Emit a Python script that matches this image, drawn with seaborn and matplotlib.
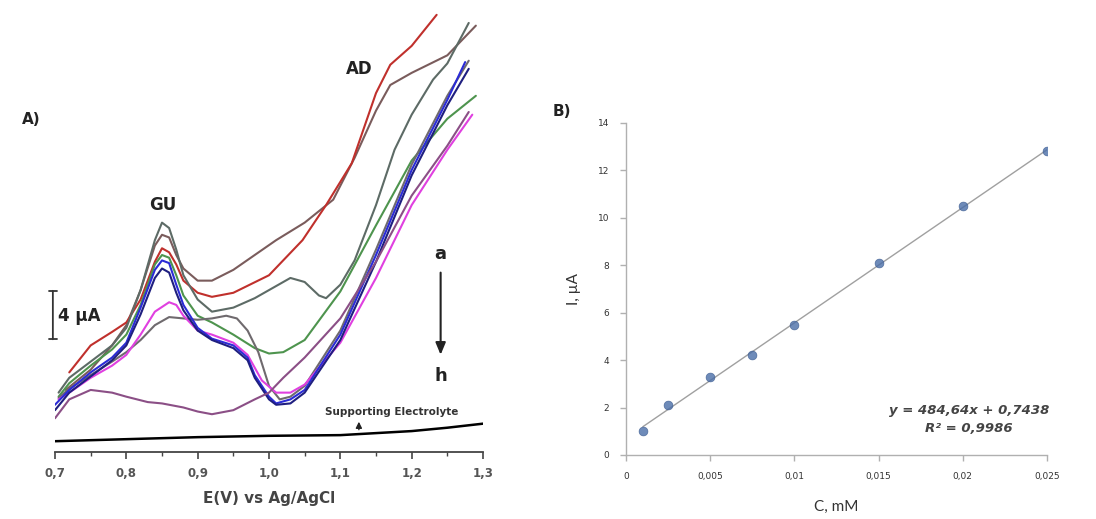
import numpy as np
import matplotlib
matplotlib.use("Agg")
import matplotlib.pyplot as plt
import seaborn as sns
from matplotlib.ticker import MultipleLocator, FuncFormatter

# ---- panel A: voltammograms (E in V, I in uA above the baseline axis) ----
e_a = [0.715, 0.75, 0.78, 0.80, 0.82, 0.84, 0.85, 0.86, 0.87, 0.88, 0.90, 0.92, 0.95, 0.98, 1.01, 1.05, 1.09, 1.12, 1.15, 1.17, 1.20, 1.25, 1.29]
i_a = [4.6, 6.1, 7.9, 9.4, 12.0, 15.3, 16.1, 15.9, 14.6, 13.6, 12.7, 12.7, 13.5, 14.6, 15.7, 17.0, 18.7, 21.8, 25.3, 27.2, 28.1, 29.4, 31.6]

e_b = [0.72, 0.75, 0.78, 0.80, 0.82, 0.84, 0.85, 0.86, 0.87, 0.88, 0.90, 0.92, 0.95, 1.00, 1.047, 1.08, 1.116, 1.15, 1.17, 1.20, 1.235]
i_b = [5.9, 7.9, 8.9, 9.6, 11.3, 14.1, 15.1, 14.8, 13.9, 12.7, 11.8, 11.5, 11.8, 13.1, 15.7, 18.3, 21.4, 26.6, 28.7, 30.1, 32.4]

e_c = [0.705, 0.72, 0.75, 0.78, 0.80, 0.82, 0.84, 0.85, 0.86, 0.87, 0.88, 0.90, 0.92, 0.95, 0.98, 1.00, 1.03, 1.05, 1.07, 1.08, 1.10, 1.12, 1.15, 1.176, 1.20, 1.23, 1.25, 1.28]
i_c = [4.4, 5.5, 6.7, 7.9, 9.2, 12.0, 15.7, 17.0, 16.6, 15.0, 13.1, 11.3, 10.4, 10.7, 11.4, 12.0, 12.9, 12.6, 11.6, 11.4, 12.4, 14.2, 18.3, 22.4, 25.0, 27.6, 28.8, 31.8]

e_d = [0.705, 0.72, 0.75, 0.78, 0.80, 0.82, 0.84, 0.85, 0.86, 0.87, 0.88, 0.90, 0.92, 0.95, 0.98, 1.00, 1.02, 1.05, 1.10, 1.15, 1.20, 1.25, 1.29]
i_d = [4.1, 5.1, 6.4, 7.6, 8.7, 10.9, 13.9, 14.6, 14.4, 13.1, 11.6, 10.1, 9.6, 8.7, 7.7, 7.3, 7.4, 8.3, 11.9, 16.8, 21.6, 24.7, 26.4]

e_e = [0.70, 0.72, 0.75, 0.78, 0.80, 0.82, 0.84, 0.85, 0.86, 0.87, 0.88, 0.90, 0.92, 0.95, 0.97, 0.98, 1.00, 1.01, 1.03, 1.05, 1.10, 1.15, 1.20, 1.25, 1.275]
i_e = [3.5, 4.6, 5.9, 7.0, 8.1, 10.7, 13.5, 14.2, 14.0, 12.4, 10.9, 9.2, 8.4, 7.9, 7.0, 5.7, 4.1, 3.6, 3.9, 4.6, 8.7, 14.6, 20.9, 26.1, 28.9]

e_f = [0.70, 0.72, 0.75, 0.78, 0.80, 0.82, 0.84, 0.85, 0.86, 0.87, 0.88, 0.90, 0.92, 0.95, 0.97, 0.98, 1.00, 1.01, 1.03, 1.05, 1.10, 1.15, 1.20, 1.25, 1.28]
i_f = [3.1, 4.4, 5.6, 6.8, 7.9, 10.2, 12.9, 13.6, 13.3, 11.8, 10.5, 9.0, 8.3, 7.7, 6.8, 5.5, 3.9, 3.5, 3.6, 4.4, 8.3, 14.1, 20.5, 25.7, 28.4]

e_i = [0.705, 0.72, 0.75, 0.78, 0.80, 0.82, 0.84, 0.86, 0.88, 0.90, 0.92, 0.94, 0.955, 0.97, 0.985, 1.00, 1.015, 1.03, 1.05, 1.10, 1.15, 1.20, 1.25, 1.28]
i_i = [4.0, 4.7, 5.7, 6.7, 7.4, 8.3, 9.4, 10.0, 9.9, 9.8, 9.9, 10.1, 9.9, 9.0, 7.4, 4.9, 3.9, 4.1, 4.9, 9.0, 15.0, 21.3, 26.4, 29.0]

e_g = [0.705, 0.72, 0.75, 0.78, 0.80, 0.82, 0.84, 0.86, 0.87, 0.88, 0.90, 0.92, 0.95, 0.97, 0.99, 1.01, 1.03, 1.05, 1.10, 1.15, 1.20, 1.25, 1.285]
i_g = [3.9, 4.4, 5.5, 6.4, 7.2, 8.7, 10.4, 11.1, 10.9, 10.1, 9.0, 8.7, 8.1, 7.2, 5.3, 4.4, 4.4, 5.0, 8.1, 12.9, 18.3, 22.4, 25.0]

e_h = [0.70, 0.72, 0.75, 0.78, 0.80, 0.83, 0.85, 0.88, 0.90, 0.92, 0.95, 0.98, 1.00, 1.02, 1.05, 1.10, 1.15, 1.20, 1.25, 1.28]
i_h = [2.5, 3.9, 4.6, 4.4, 4.1, 3.7, 3.6, 3.3, 3.0, 2.8, 3.1, 3.9, 4.4, 5.5, 7.0, 9.9, 14.1, 19.0, 22.7, 25.2]

e_se = [0.70, 0.80, 0.90, 1.00, 1.10, 1.15, 1.20, 1.25, 1.30]
i_se = [0.8, 0.95, 1.1, 1.2, 1.25, 1.4, 1.55, 1.8, 2.1]

curves = [
    (e_a, i_a, "#7a5c5c"),
    (e_b, i_b, "#c0302c"),
    (e_c, i_c, "#5d6b66"),
    (e_d, i_d, "#4e944e"),
    (e_i, i_i, "#6f6a6e"),
    (e_g, i_g, "#e040e0"),
    (e_e, i_e, "#2b2bd6"),
    (e_f, i_f, "#1f1f80"),
    (e_h, i_h, "#8b4f86"),
]

# ---- panel B: calibration ----
conc = [0.001, 0.0025, 0.005, 0.0075, 0.01, 0.015, 0.02, 0.025]
current = [1.0, 2.1, 3.3, 4.2, 5.5, 8.1, 10.5, 12.8]

sns.set_theme(style="white")
plt.rcParams["font.family"] = ["DejaVu Sans"]

W, H = 1096, 519
fig = plt.figure(figsize=(W / 100, H / 100), dpi=100)

# panel A
axA = fig.add_axes([55 / W, 67 / H, 428 / W, 452 / H])
for e, i, col in curves:
    sns.lineplot(x=e, y=i, color=col, lw=1.5, ax=axA)
sns.lineplot(x=e_se, y=i_se, color="black", lw=1.8, ax=axA)

axA.set_xlim(0.7, 1.3)
axA.set_ylim(0, 33.5)
for s in ["left", "top", "right"]:
    axA.spines[s].set_visible(False)
axA.spines["bottom"].set_color("#444444")
axA.spines["bottom"].set_linewidth(1.3)
axA.set_yticks([])
axA.xaxis.set_major_locator(MultipleLocator(0.1))
axA.xaxis.set_minor_locator(MultipleLocator(0.05))
axA.xaxis.set_major_formatter(FuncFormatter(lambda v, p: f"{v:.1f}".replace(".", ",")))
axA.tick_params(axis="x", which="major", direction="out", length=5, width=1.2,
                color="#444444", labelsize=8.5, labelcolor="#555555", pad=6, bottom=True)
axA.tick_params(axis="x", which="minor", direction="out", length=3, width=1.0,
                color="#444444", bottom=True)
for lab in axA.get_xticklabels():
    lab.set_fontweight("bold")
axA.set_xlabel("E(V) vs Ag/AgCl", fontsize=11, fontweight="bold", color="#444444", labelpad=8)
axA.set_ylabel("")

axA.text(0.851, 18.3, "GU", fontsize=12, fontweight="bold", ha="center", va="center", color="#222222")
axA.text(1.127, 28.4, "AD", fontsize=12, fontweight="bold", ha="center", va="center", color="#222222")
axA.annotate("", xy=(0.697, 8.15), xytext=(0.697, 12.15),
             arrowprops=dict(arrowstyle="|-|,widthA=0.25,widthB=0.25", color="#333333", lw=1.3),
             annotation_clip=False)
axA.text(0.704, 10.1, "4 \u00b5A", fontsize=12, fontweight="bold", ha="left", va="center", color="#222222")
axA.text(1.2406, 14.7, "a", fontsize=13, fontweight="bold", ha="center", va="center", color="#222222")
axA.text(1.2406, 5.6, "h", fontsize=13, fontweight="bold", ha="center", va="center", color="#222222")
axA.annotate("", xy=(1.2406, 7.0), xytext=(1.2406, 13.5),
             arrowprops=dict(arrowstyle="-|>,head_width=0.25,head_length=0.6", color="#222222", lw=1.5))
axA.text(1.172, 2.96, "Supporting Electrolyte", fontsize=7.5, fontweight="bold",
         ha="center", va="center", color="#333333")
axA.annotate("", xy=(1.126, 2.45), xytext=(1.126, 1.45),
             arrowprops=dict(arrowstyle="-|>,head_width=0.15,head_length=0.3", color="#222222", lw=1.0))
fig.text(22 / W, 1 - 120 / H, "A)", fontsize=11, fontweight="bold", ha="left", va="center", color="#222222")

# panel B
axB = fig.add_axes([626 / W, 64 / H, 421 / W, 332 / H])
sns.regplot(x=conc, y=current, ci=None, ax=axB,
            scatter_kws=dict(s=40, color="#4a6ea8", edgecolor="#3a5a90", linewidths=0.5, zorder=3),
            line_kws=dict(color="#a0a0a0", lw=1.0))
axB.set_xlim(0, 0.025)
axB.set_ylim(0, 14)
axB.xaxis.set_major_locator(MultipleLocator(0.005))
axB.yaxis.set_major_locator(MultipleLocator(2))
axB.xaxis.set_major_formatter(FuncFormatter(lambda v, p: "0" if abs(v) < 1e-12 else f"{v:.3f}".rstrip("0").replace(".", ",")))
for s in ["top", "right"]:
    axB.spines[s].set_visible(False)
for s in ["left", "bottom"]:
    axB.spines[s].set_color("#b0b0b0")
    axB.spines[s].set_linewidth(1.0)
axB.tick_params(axis="both", direction="out", length=4, width=1, color="#b0b0b0",
                labelsize=6.5, labelcolor="#333333", left=True, bottom=True, pad=8)
axB.set_xlabel("C, mM", fontsize=11, color="#333333", labelpad=14, family="Lato")
axB.set_ylabel("I, \u00b5A", fontsize=11, color="#333333", labelpad=12, family="Lato")
axB.text(0.02037, 1.5, "y = 484,64x + 0,7438\nR\u00b2 = 0,9986", fontsize=9.5, fontweight="bold",
         style="italic", ha="center", va="center", multialignment="center", color="#444444",
         linespacing=1.5)
fig.text(562 / W, 1 - 112 / H, "B)", fontsize=11, fontweight="bold", ha="center", va="center", color="#222222")

fig.savefig("out.png", dpi=100)
